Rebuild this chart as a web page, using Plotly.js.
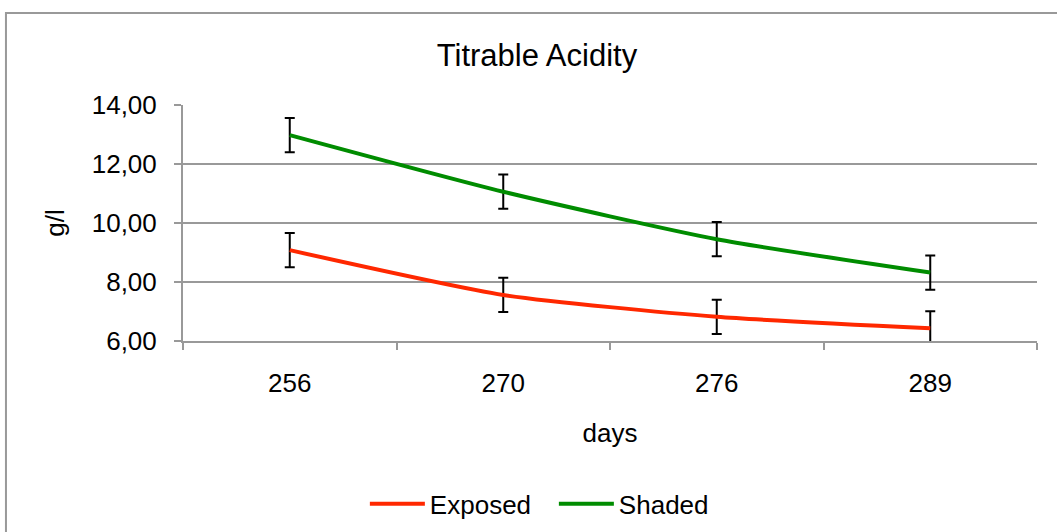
<!DOCTYPE html>
<html>
<head>
<meta charset="utf-8">
<script src="https://cdn.plot.ly/plotly-3.0.1.min.js"></script>
<style>
html,body{margin:0;padding:0;background:#fff;}
#chart{width:1057px;height:532px;}
</style>
</head>
<body>
<div id="chart"></div>
<script>
const days = ["256", "270", "276", "289"];
const exposed = [9.08, 7.56, 6.82, 6.43];
const exposedErr = [0.58, 0.58, 0.58, 0.58];
const shaded = [12.98, 11.06, 9.45, 8.32];
const shadedErr = [0.58, 0.58, 0.58, 0.58];
const yTicks = [6, 8, 10, 12, 14];

const errStyle = {type: 'data', visible: true, color: '#000', thickness: 2, width: 5};

const traces = [
  {x: days, y: exposed, name: 'Exposed', type: 'scatter', mode: 'lines',
   line: {color: 'rgb(255,40,0)', width: 4, shape: 'spline', smoothing: 0.6},
   error_y: Object.assign({array: exposedErr}, errStyle)},
  {x: days, y: shaded, name: 'Shaded', type: 'scatter', mode: 'lines',
   line: {color: 'rgb(0,140,0)', width: 4, shape: 'spline', smoothing: 0.6},
   error_y: Object.assign({array: shadedErr}, errStyle)}
];

const layout = {
  width: 1057, height: 532,
  margin: {l: 183, r: 20, t: 105, b: 191},
  paper_bgcolor: '#fff', plot_bgcolor: '#fff',
  font: {family: 'Liberation Sans, Arial, sans-serif', size: 26, color: '#000'},
  separators: ',.',
  title: {text: 'Titrable Acidity', font: {size: 31}, x: 0.508, xref: 'container', y: 0.897, yref: 'container', xanchor: 'center', yanchor: 'middle'},
  xaxis: {
    type: 'category', range: [-0.5, 3.5], tickson: 'boundaries',
    ticks: 'outside', ticklen: 7, tickwidth: 2, tickcolor: '#999',
    showline: true, linecolor: '#999', linewidth: 2, showgrid: false, zeroline: false,
    tickfont: {size: 26}, ticklabelstandoff: 18,
    title: {text: 'days', font: {size: 26}, standoff: 27}
  },
  yaxis: {
    range: [6, 14], tickvals: yTicks, tickformat: '.2f',
    ticks: 'outside', ticklen: 7, tickwidth: 2, tickcolor: '#999',
    showline: true, linecolor: '#999', linewidth: 2,
    showgrid: true, gridcolor: '#999', gridwidth: 2, zeroline: false,
    tickfont: {size: 26}, ticklabelstandoff: 12,
    title: {text: 'g/l', font: {size: 26}, standoff: 20}
  },
  showlegend: true,
  legend: {orientation: 'h', x: 0.524, xref: 'container', xanchor: 'center', y: 0.053, yref: 'container', yanchor: 'middle',
           font: {size: 26}, itemwidth: 55, entrywidth: 119, entrywidthmode: 'pixels',
           bgcolor: 'rgba(0,0,0,0)', tracegroupgap: 0},
  shapes: [{type: 'rect', xref: 'paper', yref: 'paper', x0: -0.2073, x1: 1.03, y0: -0.9, y1: 1.3898,
            line: {color: '#999', width: 2}, fillcolor: 'rgba(0,0,0,0)', layer: 'below'}]
};

Plotly.newPlot('chart', traces, layout, {displayModeBar: false, staticPlot: true});
</script>
</body>
</html>
